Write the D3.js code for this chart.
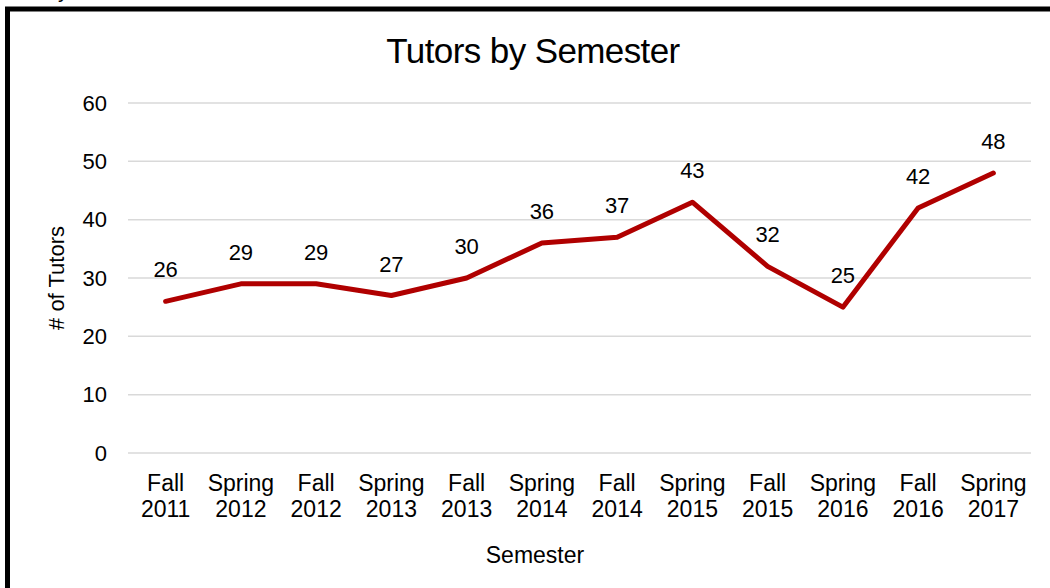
<!DOCTYPE html>
<html>
<head>
<meta charset="utf-8">
<script src="https://cdn.jsdelivr.net/npm/d3@7"></script>
<style>
  body { margin: 0; background: #fff; }
  svg { display: block; font-family: "Liberation Sans", Arial, sans-serif; }
</style>
</head>
<body>
<div id="chart"></div>
<script>
// semesters along the bottom, two lines each
var semesters = ["Fall 2011", "Spring 2012", "Fall 2012", "Spring 2013", "Fall 2013", "Spring 2014",
                 "Fall 2014", "Spring 2015", "Fall 2015", "Spring 2016", "Fall 2016", "Spring 2017"];
var tutors = [26, 29, 29, 27, 30, 36, 37, 43, 32, 25, 42, 48];
var yTicks = [0, 10, 20, 30, 40, 50, 60];

var W = 1050, H = 588;
var margin = {left: 128, right: 19, top: 103, bottom: 135};

var svg = d3.select("#chart").append("svg")
  .attr("width", W)
  .attr("height", H);

// frame edge, only top and left visible
svg.append("path")
  .attr("d", "M7.5," + H + "V9H" + W)
  .attr("fill", "none")
  .attr("stroke", "#000")
  .attr("stroke-width", 5);

// cut-off glyph above the frame
svg.append("text")
  .attr("x", 58).attr("y", -3)
  .style("font-size", "22px")
  .text("y");

var x = d3.scaleBand()
  .domain(semesters)
  .range([margin.left, W - margin.right]);

var y = d3.scaleLinear()
  .domain([0, 60])
  .range([H - margin.bottom, margin.top]);

// gridlines
svg.append("g").selectAll("line")
  .data(yTicks)
  .enter().append("line")
  .attr("x1", margin.left)
  .attr("x2", W - margin.right)
  .attr("y1", function(d) { return y(d); })
  .attr("y2", function(d) { return y(d); })
  .attr("stroke", "#d9d9d9")
  .attr("stroke-width", 1.5);

// y axis labels
var yAxis = svg.append("g")
  .attr("transform", "translate(" + (margin.left - 21) + ",0)")
  .call(d3.axisLeft(y).tickValues(yTicks).tickSize(0).tickPadding(0));
yAxis.select(".domain").remove();
yAxis.selectAll("text")
  .attr("fill", "#000")
  .style("font-size", "22px")
  .style("font-family", "'Liberation Sans', Arial, sans-serif");

// x axis labels, split into two lines
var xAxis = svg.append("g")
  .attr("transform", "translate(0," + (H - margin.bottom) + ")")
  .call(d3.axisBottom(x).tickSize(0).tickFormat(""));
xAxis.select(".domain").remove();
xAxis.selectAll(".tick").each(function(d) {
  var parts = d.split(" ");
  var t = d3.select(this).append("text")
    .attr("fill", "#000")
    .attr("text-anchor", "middle")
    .style("font-size", "23px")
    .style("font-family", "'Liberation Sans', Arial, sans-serif");
  t.append("tspan").attr("x", 0).attr("y", 38).text(parts[0]);
  t.append("tspan").attr("x", 0).attr("y", 64).text(parts[1]);
});

// the line
var line = d3.line()
  .x(function(d, i) { return x(semesters[i]) + x.bandwidth() / 2; })
  .y(function(d) { return y(d); });

svg.append("path")
  .datum(tutors)
  .attr("d", line)
  .attr("fill", "none")
  .attr("stroke", "#b00000")
  .attr("stroke-width", 5)
  .attr("stroke-linejoin", "round")
  .attr("stroke-linecap", "round");

// value labels over each point
svg.append("g").selectAll("text")
  .data(tutors)
  .enter().append("text")
  .attr("x", function(d, i) { return x(semesters[i]) + x.bandwidth() / 2; })
  .attr("y", function(d) { return y(d) - 24; })
  .attr("text-anchor", "middle")
  .style("font-size", "22px")
  .text(function(d) { return d; });

// title + axis titles
svg.append("text")
  .attr("x", 533).attr("y", 63)
  .attr("text-anchor", "middle")
  .style("font-size", "35px")
  .style("letter-spacing", "-0.6px")
  .text("Tutors by Semester");

svg.append("text")
  .attr("x", 535).attr("y", 563)
  .attr("text-anchor", "middle")
  .style("font-size", "23px")
  .text("Semester");

svg.append("text")
  .attr("transform", "translate(64,278) rotate(-90)")
  .attr("text-anchor", "middle")
  .style("font-size", "22px")
  .text("# of Tutors");
</script>
</body>
</html>
